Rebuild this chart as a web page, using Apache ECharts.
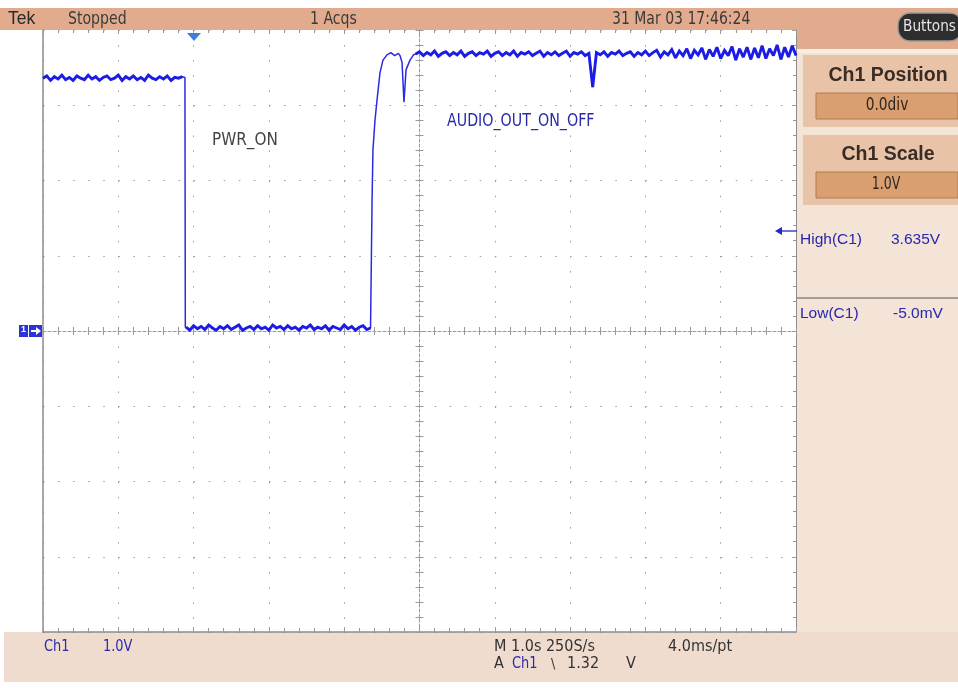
<!DOCTYPE html>
<html>
<head>
<meta charset="utf-8">
<script src="https://cdn.jsdelivr.net/npm/echarts@6/dist/echarts.min.js"></script>
<style>
html,body{margin:0;padding:0;background:#fff;}
#chart{width:958px;height:688px;}
</style>
</head>
<body>
<div id="chart"></div>
<script>
// ---------- data (time in s relative to trigger, volts) ----------
const timeMin = -2, timeMax = 8, timePerDiv = 1;
const voltMin = -4, voltMax = 4, voltPerDiv = 1;
const sampleStep = 0.05;

// high level before PWR_ON drops (t = -2.00 .. -0.15)
const preHighStart = -2.00;
const preHighVolts = [3.36,3.39,3.33,3.38,3.35,3.40,3.34,3.37,3.33,3.39,
  3.36,3.34,3.40,3.35,3.38,3.33,3.37,3.39,3.34,3.36,
  3.40,3.33,3.38,3.35,3.39,3.34,3.37,3.33,3.40,3.36,
  3.34,3.38,3.35,3.39,3.33,3.37,3.36,3.38];
// falling edge
const fallEdge = [[-0.115, 3.37], [-0.110, 0.05]];
// low level (t = -0.10 .. 2.35)
const lowStart = -0.10;
const lowVolts = [0.05,0.01,0.07,0.03,0.06,0.02,0.08,0.04,0.01,0.06,
  0.03,0.07,0.02,0.05,0.08,0.01,0.04,0.06,0.02,0.07,
  0.03,0.05,0.01,0.08,0.04,0.06,0.02,0.07,0.03,0.05,
  0.01,0.06,0.04,0.08,0.02,0.05,0.03,0.07,0.01,0.06,
  0.04,0.02,0.08,0.03,0.06,0.01,0.05,0.07,0.02,0.04];
// rising edge with glitch
const riseEdge = [[2.369,0.05],[2.370,1.74],[2.382,2.41],[2.409,2.80],[2.436,3.07],
  [2.475,3.43],[2.515,3.60],[2.568,3.67],[2.62,3.70],[2.67,3.66],[2.72,3.69],
  [2.741,3.66],[2.768,3.57],[2.794,3.04],[2.821,3.47],[2.874,3.60],[2.920,3.67]];
// high level after (t = 2.95 .. 8.00)
const postHighStart = 2.95;
const postHighVolts = [3.68,3.71,3.66,3.70,3.67,3.72,3.65,3.69,3.71,3.66,
  3.70,3.67,3.72,3.65,3.69,3.71,3.66,3.70,3.68,3.72,
  3.65,3.69,3.71,3.66,3.70,3.67,3.72,3.65,3.70,3.68,
  3.71,3.66,3.69,3.72,3.65,3.70,3.67,3.71,3.66,3.69,
  3.72,3.65,3.70,3.68,3.71,3.66,3.69,3.24,3.70,3.67,
  3.71,3.65,3.70,3.68,3.72,3.66,3.69,3.71,3.65,3.70,
  3.67,3.72,3.66,3.70,3.73,3.64,3.71,3.67,3.74,3.63,
  3.72,3.66,3.75,3.62,3.73,3.67,3.76,3.61,3.74,3.65,
  3.77,3.62,3.73,3.66,3.78,3.60,3.75,3.64,3.77,3.61,
  3.76,3.63,3.79,3.62,3.75,3.66,3.80,3.61,3.77,3.64,
  3.79,3.66];

function seg(start, vals){ return vals.map((v,i)=>[+(start + i*sampleStep).toFixed(3), v]); }
const preSeg = seg(preHighStart, preHighVolts);
const lowSeg = seg(lowStart, lowVolts);
const postSeg = seg(postHighStart, postHighVolts);
const trace = [].concat(preSeg, fallEdge, lowSeg, riseEdge, postSeg);
// flat (noisy) stretches, drawn again thicker to form the dense noise band
const flatBand = [].concat(preSeg, ['-'], lowSeg, ['-'], postSeg);

// ---------- layout ----------
const G = {left:43, top:30, width:753, height:602};
const FONT = "'Liberation Sans Narrow','DejaVu Sans Condensed',sans-serif";
const REG = "'Liberation Sans',Arial,sans-serif";
const dotStyle = {color:'#a2a2a2', width:1, type:[1.6, 13.46]};
const tickStyle = {color:'#9a9a9a', width:1};

function txt(x,y,text,opt){
  opt = opt||{};
  return {type:'text', x:x, y:y, z:100, scaleX:opt.sx||1,
    style:{text:text, fill:opt.fill||'#333', fontSize:opt.size||17,
    fontFamily:opt.family||FONT, fontWeight:opt.weight||'normal', textAlign:opt.align||'left', textVerticalAlign:'middle'}};
}
function rect(x,y,w,h,fill,extra){
  return Object.assign({type:'rect', z:-50, shape:{x:x,y:y,width:w,height:h}, style:{fill:fill}}, extra||{});
}

const chart = echarts.init(document.getElementById('chart'), null, {renderer:'canvas'});
const valAxisBase = {type:'value', axisLabel:{show:false}, splitLine:{show:false}, minorSplitLine:{show:false}};

chart.setOption({
  backgroundColor:'#ffffff',
  animation:false,
  grid:{left:G.left, top:G.top, width:G.width, height:G.height, show:false},
  xAxis:[
    Object.assign({}, valAxisBase, {min:timeMin, max:timeMax, interval:timePerDiv, position:'bottom',
      axisLine:{show:true, onZero:false, lineStyle:{color:'#8c8c8c', width:1.5}},
      axisTick:{show:true, inside:true, length:5, lineStyle:tickStyle},
      minorTick:{show:true, splitNumber:5, length:4, lineStyle:tickStyle},
      splitLine:{show:true, lineStyle:dotStyle}}),
    Object.assign({}, valAxisBase, {min:timeMin, max:timeMax, interval:timePerDiv, position:'top',
      axisLine:{show:false, onZero:false},
      axisTick:{show:true, inside:true, length:4, lineStyle:tickStyle},
      minorTick:{show:true, splitNumber:5, length:3, lineStyle:tickStyle}}),
    Object.assign({}, valAxisBase, {min:timeMin, max:timeMax, interval:timePerDiv, position:'bottom',
      axisLine:{show:true, onZero:true, onZeroAxisIndex:0, lineStyle:{color:'#9a9a9a', width:1, type:[3,2]}},
      axisTick:{show:true, inside:false, length:4, lineStyle:tickStyle},
      minorTick:{show:true, splitNumber:5, length:4, lineStyle:tickStyle}}),
    Object.assign({}, valAxisBase, {min:timeMin, max:timeMax, interval:timePerDiv, position:'bottom',
      axisLine:{show:false, onZero:true, onZeroAxisIndex:0},
      axisTick:{show:true, inside:true, length:4, lineStyle:tickStyle},
      minorTick:{show:true, splitNumber:5, length:4, lineStyle:tickStyle}}),
    Object.assign({}, valAxisBase, {min:-5, max:5, interval:1, show:false})
  ],
  yAxis:[
    Object.assign({}, valAxisBase, {min:voltMin, max:voltMax, interval:voltPerDiv, position:'left',
      axisLine:{show:true, onZero:false, lineStyle:{color:'#8c8c8c', width:1.5}},
      axisTick:{show:false},
      splitLine:{show:true, lineStyle:dotStyle}}),
    Object.assign({}, valAxisBase, {min:voltMin, max:voltMax, interval:voltPerDiv, position:'right',
      axisLine:{show:true, onZero:false, lineStyle:{color:'#8c8c8c', width:1}},
      axisTick:{show:true, inside:true, length:4, lineStyle:tickStyle},
      minorTick:{show:true, splitNumber:5, length:3, lineStyle:tickStyle}}),
    Object.assign({}, valAxisBase, {min:voltMin, max:voltMax, interval:voltPerDiv, position:'left',
      axisLine:{show:true, onZero:true, onZeroAxisIndex:4, lineStyle:{color:'#9a9a9a', width:1, type:[3,2]}},
      axisTick:{show:true, inside:false, length:4, lineStyle:tickStyle},
      minorTick:{show:true, splitNumber:5, length:4, lineStyle:tickStyle}}),
    Object.assign({}, valAxisBase, {min:voltMin, max:voltMax, interval:voltPerDiv, position:'left',
      axisLine:{show:false, onZero:true, onZeroAxisIndex:4},
      axisTick:{show:true, inside:true, length:4, lineStyle:tickStyle},
      minorTick:{show:true, splitNumber:5, length:4, lineStyle:tickStyle}})
  ],
  series:[{
    type:'line', xAxisIndex:0, yAxisIndex:0, data:trace, showSymbol:false, symbol:'none',
    sampling:null, z:10,
    lineStyle:{color:'#2a2ae0', width:1.5}
  },{
    type:'line', xAxisIndex:0, yAxisIndex:0, data:flatBand, showSymbol:false, symbol:'none',
    sampling:null, z:11, connectNulls:false,
    lineStyle:{color:'#1c1ce6', width:2.9, join:'miter', miterLimit:2}
  }],
  graphic:[
    // panels
    rect(0,8,958,22,'#E2AB8E'),
    rect(797,8,161,41,'#E2AB8E'),
    rect(797,49,161,583,'#F4E3D7'),
    rect(797,49,161,4,'#F9ECE3'),
    rect(803,55,155,72,'#E9C3A8'),
    rect(803,135,155,70,'#E9C3A8'),
    rect(816,93,142,26,'#D99F70',{style:{fill:'#D99F70', stroke:'#B07A50', lineWidth:1}}),
    rect(816,172,142,26,'#D99F70',{style:{fill:'#D99F70', stroke:'#B07A50', lineWidth:1}}),
    rect(4,632,954,50,'#F0DCCF'),
    {type:'line', z:60, shape:{x1:797,y1:298,x2:958,y2:298}, style:{stroke:'#555', lineWidth:1.2}},
    // Buttons pill
    {type:'rect', z:60, shape:{x:898,y:13,width:64,height:28,r:12}, style:{fill:'#2e2e2e', stroke:'#9a9a9a', lineWidth:1.5}},
    txt(903,27,'Buttons',{fill:'#e6e6e6', size:16, sx:0.95}),
    // top bar texts
    txt(8,19,'Tek',{family:REG, size:17.5, fill:'#2a2a2a'}),
    txt(68,19,'Stopped',{size:18, fill:'#3a3a3a', sx:0.87}),
    txt(310,19,'1 Acqs',{size:18, fill:'#3a3a3a', sx:0.87}),
    txt(612,19,'31 Mar 03 17:46:24',{size:17.5, fill:'#3a3a3a', sx:0.89}),
    // right panel texts
    txt(888,76,'Ch1 Position',{family:REG, size:19.5, weight:'bold', fill:'#3a2c24', align:'center'}),
    txt(887,106,'0.0div',{size:17, fill:'#2e2620', align:'center', sx:0.9}),
    txt(888,155,'Ch1 Scale',{family:REG, size:19.5, weight:'bold', fill:'#3a2c24', align:'center'}),
    txt(886,185,'1.0V',{size:17, fill:'#2e2620', align:'center', sx:0.82}),
    txt(800,240,'High(C1)',{family:REG, size:15.5, fill:'#2626b0'}),
    txt(891,240,'3.635V',{family:REG, size:15.5, fill:'#2626b0'}),
    txt(800,314,'Low(C1)',{family:REG, size:15.5, fill:'#2626b0'}),
    txt(893,314,'-5.0mV',{family:REG, size:15.5, fill:'#2626b0'}),
    {type:'line', z:60, shape:{x1:779,y1:231,x2:797,y2:231}, style:{stroke:'#2626c0', lineWidth:1.3}},
    {type:'polygon', z:60, shape:{points:[[775,231],[782,227],[782,235]]}, style:{fill:'#2626c0'}},
    // bottom texts
    txt(44,647,'Ch1',{size:16, fill:'#2a2ab0', sx:0.9}),
    txt(103,647,'1.0V',{size:16, fill:'#2a2ab0', sx:0.9}),
    txt(494,647,'M 1.0s 250S/s',{size:16, fill:'#333'}),
    txt(668,647,'4.0ms/pt',{size:16, fill:'#333'}),
    txt(494,664,'A',{size:16, fill:'#333'}),
    txt(512,664,'Ch1',{size:16, fill:'#2a2ab0', sx:0.9}),
    txt(551,664,'\u005c',{size:14, fill:'#333'}),
    txt(567,664,'1.32',{size:16, fill:'#333'}),
    txt(626,664,'V',{size:16, fill:'#333'}),
    // plot annotations
    txt(212,140,'PWR_ON',{size:18, fill:'#444', sx:0.94}),
    txt(447,122,'AUDIO_OUT_ON_OFF',{size:17, fill:'#2a2aa8', sx:0.93}),
    // trigger position marker
    {type:'polygon', z:60, shape:{points:[[187,33],[201,33],[194,41]]}, style:{fill:'#3b7fdc'}},
    // ground level marker
    {type:'rect', z:60, shape:{x:19,y:325,width:9,height:12}, style:{fill:'#2b33d6'}},
    {type:'rect', z:60, shape:{x:29,y:325,width:13,height:12}, style:{fill:'#2b33d6'}},
    txt(21,330,'1',{family:REG, size:9, fill:'#ffffff', weight:'bold'}),
    {type:'polyline', z:61, shape:{points:[[31,331],[39,331]]}, style:{stroke:'#fff', lineWidth:2}},
    {type:'polygon', z:61, shape:{points:[[41,331],[36,327],[36,335]]}, style:{fill:'#fff'}}
  ]
});
</script>
</body>
</html>
